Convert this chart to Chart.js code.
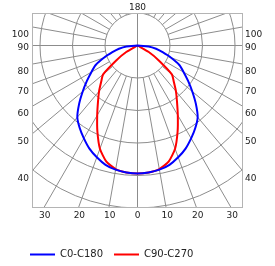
<!DOCTYPE html>
<html>
<head>
<meta charset="utf-8">
<script src="https://cdn.jsdelivr.net/npm/chart.js@4"></script>
<style>
  body { margin: 0; background: #fff; }
  #wrap { width: 275px; height: 266px; }
</style>
</head>
<body>
<div id="wrap"><canvas id="polarChart"></canvas></div>
<script>
// angle from nadir in degrees, intensity in diagram units (one ring = 50)
const angles  = [0, 5, 10, 15, 20, 25, 30, 35, 40, 45, 50, 55, 60, 65, 70, 75, 80, 85, 90];
const c0c180  = [197, 196, 194, 190, 183, 175, 165, 155, 144, 127, 110, 95, 82, 71, 55, 40, 29, 17, 0];
const c90c270 = [197, 196, 193, 185, 169, 146, 124, 106, 92, 79, 69, 40, 20, 0, 0, 0, 0, 0, 0];

const ringStep = 50;
const sideLabels = [100, 90, 80, 70, 60, 50, 40];
const bottomLabels = [-30, -20, -10, 0, 10, 20, 30];
const topLabel = '180';

const labelFont = '9px "DejaVu Sans", Verdana, sans-serif';

// mirror one half-plane curve onto both sides of the vertical axis
function curvePoints(values) {
    const zero = values.indexOf(0);
    const n = zero === -1 ? values.length - 1 : zero;
    const pts = [];
    for (let i = n; i >= 0; i--) {
        const a = angles[i] * Math.PI / 180;
        pts.push({ x: -values[i] * Math.sin(a), y: -values[i] * Math.cos(a) });
    }
    for (let i = 1; i <= n; i++) {
        const a = angles[i] * Math.PI / 180;
        pts.push({ x: values[i] * Math.sin(a), y: -values[i] * Math.cos(a) });
    }
    return pts;
}

const polarGrid = {
    id: 'polarGrid',
    beforeDatasetsDraw(chart) {
        const { ctx, chartArea: area, scales: { x, y } } = chart;
        const cx = x.getPixelForValue(0);
        const cy = y.getPixelForValue(0);
        const unit = x.getPixelForValue(ringStep) - cx;

        ctx.save();
        ctx.beginPath();
        ctx.rect(area.left, area.top, area.width, area.height);
        ctx.clip();
        ctx.strokeStyle = '#8c8c8c';
        ctx.lineWidth = 1;

        // rings
        for (let k = 1; k <= 6; k++) {
            ctx.beginPath();
            ctx.arc(cx, cy, k * unit, 0, 2 * Math.PI);
            ctx.stroke();
        }
        // 0-180 and 90-270 axes
        ctx.beginPath();
        ctx.moveTo(area.left, cy);
        ctx.lineTo(area.right, cy);
        ctx.moveTo(cx, area.top);
        ctx.lineTo(cx, area.bottom);
        ctx.stroke();
        // spokes every 10 deg, starting at the first ring
        for (let a = 10; a < 360; a += 10) {
            if (a % 90 === 0) continue;
            const t = a * Math.PI / 180;
            ctx.beginPath();
            ctx.moveTo(cx + unit * Math.sin(t), cy + unit * Math.cos(t));
            ctx.lineTo(cx + 1000 * Math.sin(t), cy + 1000 * Math.cos(t));
            ctx.stroke();
        }
        ctx.restore();

        // frame
        ctx.save();
        ctx.strokeStyle = '#b4b4b4';
        ctx.lineWidth = 1;
        ctx.strokeRect(area.left + 0.5, area.top + 0.5, area.width - 1, area.height - 1);
        ctx.restore();
    },
    afterDraw(chart) {
        const { ctx, chartArea: area, scales: { x, y } } = chart;
        const cx = x.getPixelForValue(0);
        const cy = y.getPixelForValue(0);
        const halfW = cx - area.left;

        ctx.save();
        ctx.font = labelFont;
        ctx.fillStyle = '#222';
        ctx.textBaseline = 'alphabetic';

        sideLabels.forEach(ang => {
            const t = ang * Math.PI / 180;
            const yLine = cy + halfW / Math.tan(t);
            const yText = ang === 90 ? cy + 4.5 : yLine + 10;
            ctx.textAlign = 'right';
            ctx.fillText(String(ang), area.left - 3, yText);
            ctx.textAlign = 'left';
            ctx.fillText(String(ang), area.right + 2, yText);
        });

        ctx.textAlign = 'center';
        bottomLabels.forEach(ang => {
            const t = ang * Math.PI / 180;
            const xPos = cx + (area.bottom - cy) * Math.tan(t) + (ang === 0 ? 0 : 1);
            ctx.fillText(String(Math.abs(ang)), xPos, area.bottom + 10);
        });
        ctx.fillText(topLabel, cx, area.top - 3);
        ctx.restore();
    }
};

const ctx = document.getElementById('polarChart').getContext('2d');
new Chart(ctx, {
    type: 'scatter',
    data: {
        datasets: [{
            label: 'C0-C180',
            data: curvePoints(c0c180),
            showLine: true,
            borderColor: '#0000ff',
            backgroundColor: '#0000ff',
            borderWidth: 2,
            pointRadius: 0,
            tension: 0.2
        }, {
            label: 'C90-C270',
            data: curvePoints(c90c270),
            showLine: true,
            borderColor: '#ff0000',
            backgroundColor: '#ff0000',
            borderWidth: 2,
            pointRadius: 0,
            tension: 0.2
        }]
    },
    options: {
        responsive: true,
        maintainAspectRatio: false,
        animation: false,
        layout: {
            padding: { left: 19, right: 32, top: 13, bottom: 0 }
        },
        scales: {
            x: {
                type: 'linear',
                min: -162.3,
                max: 162.3,
                grid: { display: false },
                border: { display: false },
                ticks: { display: false },
                afterFit: scale => { scale.height = 30.5; }
            },
            y: {
                type: 'linear',
                min: -250,
                max: 50,
                grid: { display: false },
                border: { display: false },
                ticks: { display: false },
                afterFit: scale => { scale.width = 13; }
            }
        },
        plugins: {
            legend: {
                position: 'bottom',
                align: 'start',
                maxHeight: 27.5,
                labels: {
                    boxWidth: 25,
                    boxHeight: 0,
                    padding: 11,
                    color: '#222',
                    font: { size: 10, family: '"DejaVu Sans", Verdana, sans-serif' }
                }
            },
            tooltip: { enabled: false }
        }
    },
    plugins: [polarGrid]
});
</script>
</body>
</html>
